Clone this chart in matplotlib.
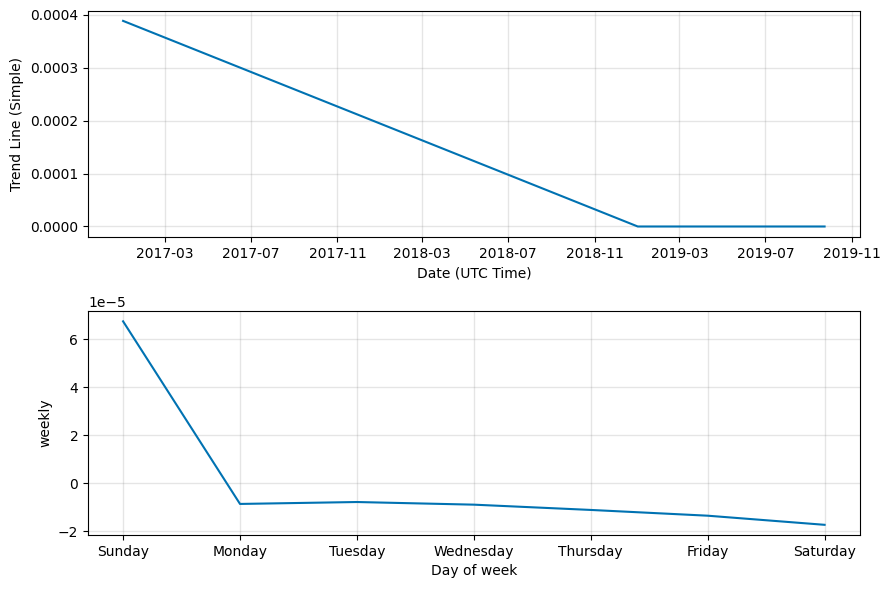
import numpy as np
import pandas as pd
import matplotlib
matplotlib.use("Agg")
import matplotlib.pyplot as plt
import matplotlib.dates as mdates

# trend component (piecewise linear)
trend_dates = pd.to_datetime(["2017-01-01", "2019-01-01", "2019-09-23"])
trend_values = [0.000388, 0.0, 0.0]

# weekly seasonality
days = ["Sunday", "Monday", "Tuesday", "Wednesday", "Thursday", "Friday", "Saturday"]
weekly_values = [6.74e-5, -0.87e-5, -0.79e-5, -0.90e-5, -1.12e-5, -1.36e-5, -1.74e-5]

color = "#0072B2"

fig = plt.figure(figsize=(8.89, 5.89), dpi=100)
ax1 = fig.add_axes([0.099, 0.598, 0.868, 0.384])
ax2 = fig.add_axes([0.099, 0.0917, 0.868, 0.380])

ax1.plot(trend_dates, trend_values, ls="-", c=color)
ax1.xaxis.set_major_locator(mdates.MonthLocator(bymonth=[3, 7, 11]))
ax1.xaxis.set_major_formatter(mdates.DateFormatter("%Y-%m"))
ax1.grid(True, which="major", c="gray", ls="-", lw=1, alpha=0.2)
ax1.set_xlabel("Date (UTC Time)")
ax1.set_ylabel("Trend Line (Simple)")

x = np.arange(len(days))
ax2.plot(x, weekly_values, ls="-", c=color)
ax2.set_xticks(x)
ax2.set_xticklabels(days)
ax2.grid(True, which="major", c="gray", ls="-", lw=1, alpha=0.2)
ax2.set_xlabel("Day of week")
ax2.set_ylabel("weekly")

fig.savefig("out.png", dpi=100)
